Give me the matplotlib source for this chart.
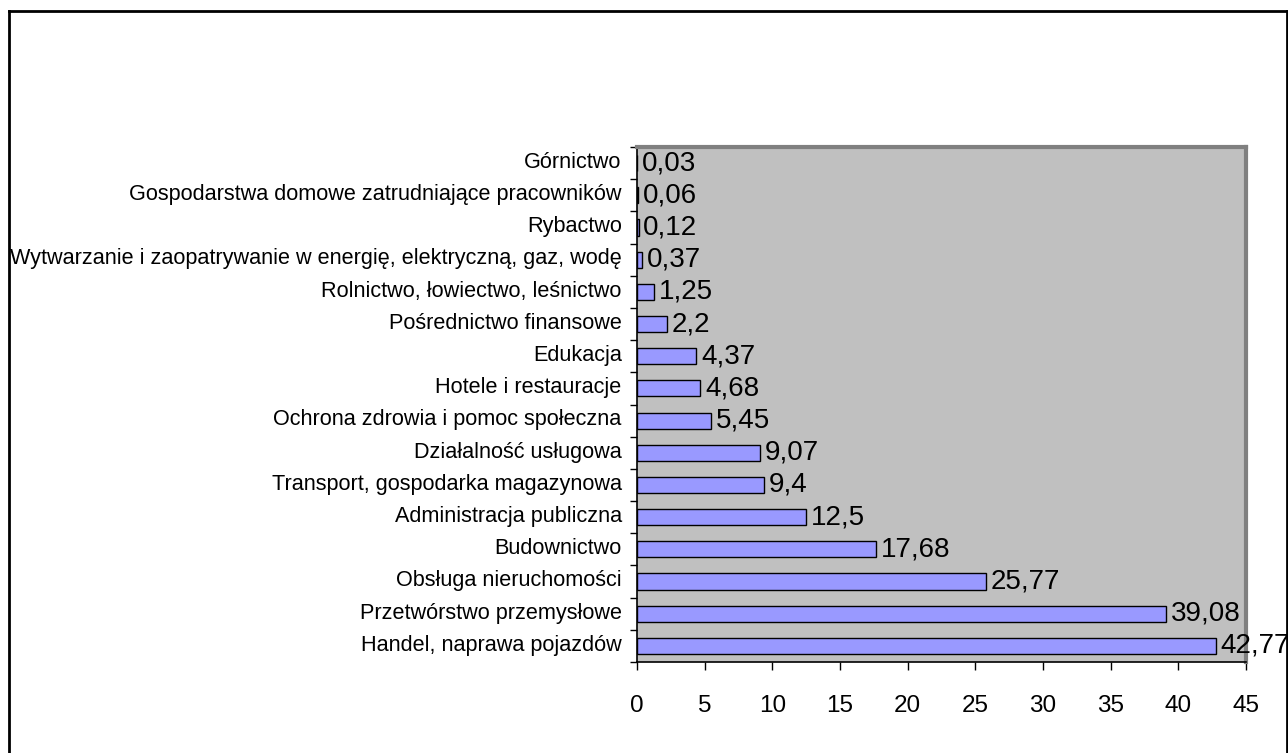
import matplotlib.pyplot as plt
from matplotlib.lines import Line2D

categories = [
    "Handel, naprawa pojazdów",
    "Przetwórstwo przemysłowe",
    "Obsługa nieruchomości",
    "Budownictwo",
    "Administracja publiczna",
    "Transport, gospodarka magazynowa",
    "Działalność usługowa",
    "Ochrona zdrowia i pomoc społeczna",
    "Hotele i restauracje",
    "Edukacja",
    "Pośrednictwo finansowe",
    "Rolnictwo, łowiectwo, leśnictwo",
    "Wytwarzanie i zaopatrywanie w energię, elektryczną, gaz, wodę",
    "Rybactwo",
    "Gospodarstwa domowe zatrudniające pracowników",
    "Górnictwo",
]
values = [42.77, 39.08, 25.77, 17.68, 12.5, 9.4, 9.07, 5.45, 4.68, 4.37,
          2.2, 1.25, 0.37, 0.12, 0.06, 0.03]
value_labels = ["42,77", "39,08", "25,77", "17,68", "12,5", "9,4", "9,07", "5,45",
                "4,68", "4,37", "2,2", "1,25", "0,37", "0,12", "0,06", "0,03"]
xticks = [0, 5, 10, 15, 20, 25, 30, 35, 40, 45]

plt.rcParams['font.family'] = ['Liberation Sans', 'DejaVu Sans']

W, H = 1288, 753
fig = plt.figure(figsize=(W / 100, H / 100), dpi=100)

# outer frame (left, top, right)
fig.add_artist(Line2D([9 / W, 9 / W], [0, 1 - 11 / H], color="black", lw=2))
fig.add_artist(Line2D([9 / W, 1287 / W], [1 - 11 / H, 1 - 11 / H], color="black", lw=2))
fig.add_artist(Line2D([1287 / W, 1287 / W], [1 - 11 / H, 0], color="black", lw=2))

left, right, top, bottom = 637, 1246, 147, 662
ax = fig.add_axes([left / W, 1 - bottom / H, (right - left) / W, (bottom - top) / H])
ax.set_facecolor("#C0C0C0")

ypos = list(range(len(categories)))
ax.barh(ypos, values, height=0.5, color="#9999FF", edgecolor="black", linewidth=1, zorder=3)

for y, v, lab in zip(ypos, values, value_labels):
    ax.text(v + 0.35, y, lab, va="center", ha="left", fontsize=20, zorder=4, clip_on=False)

ax.set_xlim(0, 45)
ax.set_ylim(-0.5, len(categories) - 0.5)
ax.set_xticks(xticks)
ax.set_xticklabels([str(t) for t in xticks], fontsize=17.5)
ax.tick_params(axis="x", length=6, width=1, direction="out", pad=18)

ax.set_yticks([i - 0.5 for i in range(len(categories) + 1)])
ax.set_yticklabels([])
ax.set_yticks([y + 0.1 for y in ypos], minor=True)
ax.set_yticklabels(categories, minor=True, fontsize=15.6)
ax.tick_params(axis="y", which="major", length=5, width=1, direction="out")
ax.tick_params(axis="y", which="minor", length=0, pad=11)

ax.spines["left"].set_color("black")
ax.spines["bottom"].set_color("black")
ax.spines["left"].set_linewidth(1.2)
ax.spines["bottom"].set_linewidth(1.2)
for s in ["top", "right"]:
    ax.spines[s].set_color("#808080")
    ax.spines[s].set_linewidth(3)

fig.savefig("out.png", dpi=100)
